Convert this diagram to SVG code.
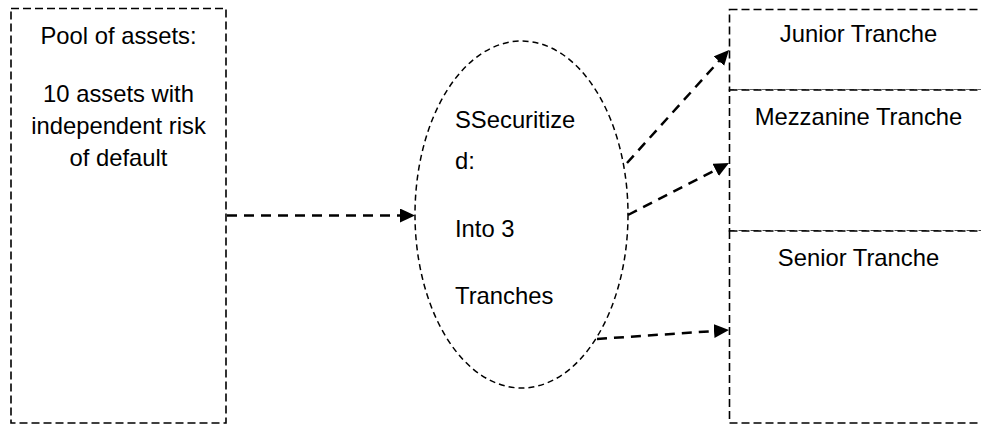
<svg xmlns="http://www.w3.org/2000/svg" width="981" height="428" viewBox="0 0 981 428">
  <defs>
    <marker id="arrow" markerUnits="userSpaceOnUse" markerWidth="16" markerHeight="15" refX="5" refY="7" orient="auto">
      <path d="M0,0 L15,7 L0,14 z" fill="#000"/>
    </marker>
    <style>
      .box { fill: #fff; stroke: #000; stroke-width: 1.6; stroke-dasharray: 8 4; }
      .oval { fill: #fff; stroke: #000; stroke-width: 1.5; stroke-dasharray: 6 4; }
      .divider { stroke: #888; stroke-width: 1; fill: none; }
      .conn { fill: none; stroke: #000; stroke-width: 2.5; stroke-dasharray: 10 7; marker-end: url(#arrow); }
      .t { font-family: "Liberation Sans", Arial, sans-serif; font-size: 23.8px; fill: #000; }
      .c { text-anchor: middle; }
    </style>
  </defs>

  <g id="pool">
    <rect class="box" x="11" y="8.5" width="215" height="414.5"/>
    <text class="t c" x="118.5" y="44">Pool of assets:</text>
    <text class="t c" x="118.5" y="102">10 assets with</text>
    <text class="t c" x="118.5" y="134">independent risk</text>
    <text class="t c" x="118.5" y="166">of default</text>
  </g>

  <g id="securitized">
    <ellipse class="oval" cx="521.5" cy="214.5" rx="106.5" ry="173.5"/>
    <text class="t" x="455" y="128">SSecuritize</text>
    <text class="t" x="455" y="169">d:</text>
    <text class="t" x="455" y="237">Into 3</text>
    <text class="t" x="455" y="304">Tranches</text>
  </g>

  <g id="junior">
    <rect class="box" x="729.5" y="9.5" width="262" height="80.5"/>
    <text class="t c" x="858.5" y="42">Junior Tranche</text>
  </g>

  <g id="mezzanine">
    <line class="divider" x1="729.5" y1="90" x2="981" y2="90"/>
    <rect class="box" x="729.5" y="90" width="262" height="141"/>
    <text class="t c" x="858.5" y="125">Mezzanine Tranche</text>
  </g>

  <g id="senior">
    <rect class="box" x="729.5" y="231" width="262" height="192"/>
    <text class="t c" x="858.5" y="266">Senior Tranche</text>
  </g>

  <g id="connectors">
    <line class="conn" x1="227" y1="215.5" x2="405" y2="215.5"/>
    <line class="conn" x1="627" y1="163" x2="722.3" y2="57.4"/>
    <line class="conn" x1="628" y1="215" x2="720.1" y2="167.6"/>
    <line class="conn" x1="597" y1="339" x2="719" y2="330.7"/>
  </g>
</svg>
